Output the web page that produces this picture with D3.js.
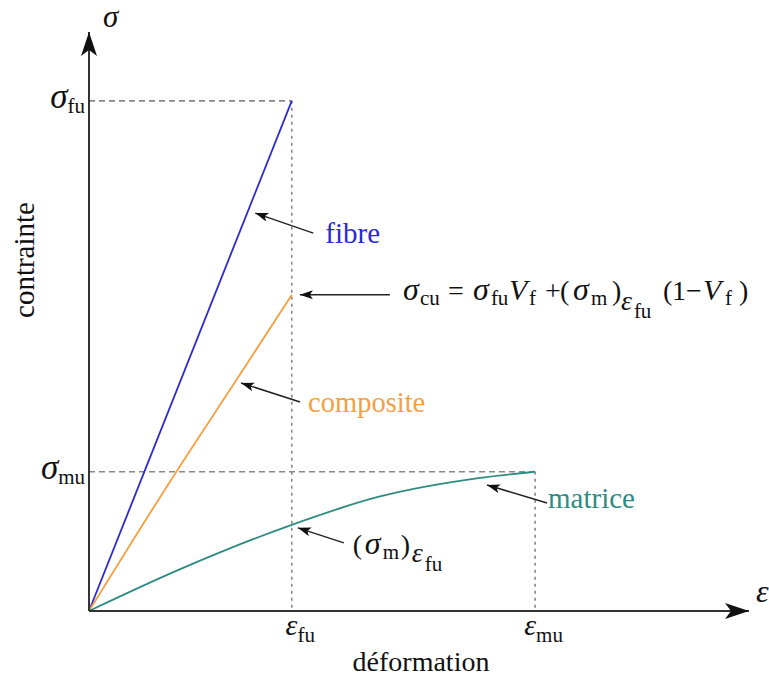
<!DOCTYPE html>
<html>
<head>
<meta charset="utf-8">
<script src="https://cdn.jsdelivr.net/npm/d3@7"></script>
<style>
  body { margin: 0; background: #fff; }
</style>
</head>
<body>
<svg id="chart" width="769" height="679"></svg>
<script>
// strain in units of eps_fu, stress in % of sigma_fu
var strainFu = 1.0, strainMu = 2.2;
var stressFu = 100, stressMu = 27.3;

var fibreStrain = [0, 1.0];
var fibreStress = [0, 100];
var compositeStrain = [0, 0.4, 0.78, 1.0];
var compositeStress = [0, 25.4, 48.5, 62];
var matrixStrain = [0, 0.45, 1.0, 1.43, 1.93, 2.2];
var matrixStress = [0, 8.2, 16.9, 22.4, 26.1, 27.3];

var xTickValues = [strainFu, strainMu];
var xTickSubs = ['fu', 'mu'];
var yTickValues = [stressMu, stressFu];
var yTickSubs = ['mu', 'fu'];

var colors = { fibre: '#2b2bd0', composite: '#f4a040', matrix: '#2e8b82' };
var serif = "'Liberation Serif'";

var svg = d3.select('#chart');
var x = d3.scaleLinear().domain([0, 3.25]).range([89, 748]);
var y = d3.scaleLinear().domain([0, 113.5]).range([611, 32]);

var defs = svg.append('defs');
defs.append('marker')
  .attr('id', 'axisHead').attr('markerUnits', 'userSpaceOnUse')
  .attr('markerWidth', 26).attr('markerHeight', 18)
  .attr('refX', 24).attr('refY', 8).attr('orient', 'auto')
  .append('path').attr('d', 'M0,0L24,8L0,16L6,8Z').attr('fill', '#111');
defs.append('marker')
  .attr('id', 'noteHead').attr('markerUnits', 'userSpaceOnUse')
  .attr('markerWidth', 14).attr('markerHeight', 10)
  .attr('refX', 13).attr('refY', 4.5).attr('orient', 'auto')
  .append('path').attr('d', 'M0,0L13,4.5L0,9L3,4.5Z').attr('fill', '#111');

// guide lines
var guides = svg.append('g').attr('fill', 'none').attr('stroke', '#888').attr('stroke-width', 1.6);
guides.append('line')
  .attr('x1', x(0)).attr('x2', x(strainFu)).attr('y1', y(stressFu)).attr('y2', y(stressFu))
  .attr('stroke-dasharray', '6,4');
guides.append('line')
  .attr('x1', x(0)).attr('x2', x(strainMu)).attr('y1', y(stressMu)).attr('y2', y(stressMu))
  .attr('stroke-dasharray', '6,4');
guides.append('line')
  .attr('x1', x(strainFu)).attr('x2', x(strainFu)).attr('y1', y(stressFu)).attr('y2', y(0))
  .attr('stroke-dasharray', '3,4');
guides.append('line')
  .attr('x1', x(strainMu)).attr('x2', x(strainMu)).attr('y1', y(stressMu)).attr('y2', y(0))
  .attr('stroke-dasharray', '3,4');

// curves
var line = d3.line()
  .x(function(d) { return x(d[0]); })
  .y(function(d) { return y(d[1]); })
  .curve(d3.curveMonotoneX);

var series = [
  { key: 'fibre', pts: d3.zip(fibreStrain, fibreStress) },
  { key: 'composite', pts: d3.zip(compositeStrain, compositeStress) },
  { key: 'matrix', pts: d3.zip(matrixStrain, matrixStress) }
];
svg.append('g').selectAll('path').data(series).enter()
  .append('path')
  .attr('d', function(d) { return line(d.pts); })
  .attr('fill', 'none')
  .attr('stroke', function(d) { return colors[d.key]; })
  .attr('stroke-width', 1.8);

// axes
svg.append('line')
  .attr('x1', x(0)).attr('y1', y(0)).attr('x2', x.range()[1] + 1).attr('y2', y(0))
  .attr('stroke', '#333').attr('stroke-width', 2).attr('marker-end', 'url(#axisHead)');
svg.append('line')
  .attr('x1', x(0)).attr('y1', y(0)).attr('x2', x(0)).attr('y2', y.range()[1])
  .attr('stroke', '#333').attr('stroke-width', 2).attr('marker-end', 'url(#axisHead)');

// tspan helper: every piece carries its own font
function piece(t, s, size, opts) {
  opts = opts || {};
  var ts = t.append('tspan').attr('font-family', serif).attr('font-size', size).text(s);
  if (opts.italic) ts.attr('font-style', 'italic');
  if (opts.dy) ts.attr('dy', opts.dy);
  if (opts.x !== undefined) ts.attr('x', opts.x);
  if (opts.y !== undefined) ts.attr('y', opts.y);
  return ts;
}

var xAxis = svg.append('g')
  .attr('transform', 'translate(0,' + y(0) + ')')
  .call(d3.axisBottom(x).tickValues(xTickValues).tickSize(0).tickFormat(''));
xAxis.attr('font-family', serif).attr('font-size', null);
xAxis.select('.domain').remove();
xAxis.selectAll('.tick text').each(function(d, i) {
  var t = d3.select(this).attr('dy', null).attr('y', 24).attr('x', 8)
    .attr('font-family', serif).attr('text-anchor', 'middle').attr('fill', '#111');
  piece(t, '\u03B5', 30, { italic: true });
  piece(t, xTickSubs[i], 21, { dy: 7 });
});

var yAxis = svg.append('g')
  .attr('transform', 'translate(' + x(0) + ',0)')
  .call(d3.axisLeft(y).tickValues(yTickValues).tickSize(0).tickFormat(''));
yAxis.attr('font-family', serif).attr('font-size', null);
yAxis.select('.domain').remove();
yAxis.selectAll('.tick text').each(function(d, i) {
  var t = d3.select(this).attr('dy', null).attr('y', 7).attr('x', -4)
    .attr('font-family', serif).attr('text-anchor', 'end').attr('fill', '#111');
  piece(t, '\u03C3', 35, { italic: true });
  piece(t, yTickSubs[i], 21, { dy: 5 });
});

function addText(xp, yp, size) {
  return svg.append('text').attr('x', xp).attr('y', yp)
    .attr('font-family', serif).attr('font-size', size).attr('fill', '#111');
}

// axis titles
addText(103, 27, 31).attr('font-style', 'italic').text('\u03C3');
addText(756, 602, 32).attr('font-style', 'italic').text('\u03B5');
addText(421, 671, 28).attr('text-anchor', 'middle').text('déformation');
addText(0, 0, 29).attr('transform', 'translate(34,' + 260 + ') rotate(-90)')
  .attr('text-anchor', 'middle').text('contrainte');

// annotations: arrow tip on the curve, tail offset
var notes = [
  { strain: 0.82, stress: 78, dx: 58, dy: 20 },
  { strain: 0.75, stress: 44.7, dx: 59, dy: 19 },
  { strain: 1.04, stress: 62, dx: 90, dy: 0 },
  { strain: 1.963, stress: 24.7, dx: 60, dy: 18 },
  { strain: 1.03, stress: 16.3, dx: 46, dy: 15 }
];
svg.append('g').selectAll('line').data(notes).enter()
  .append('line')
  .attr('x1', function(d) { return x(d.strain) + d.dx; })
  .attr('y1', function(d) { return y(d.stress) + d.dy; })
  .attr('x2', function(d) { return x(d.strain); })
  .attr('y2', function(d) { return y(d.stress); })
  .attr('stroke', '#222').attr('stroke-width', 1.5)
  .attr('marker-end', 'url(#noteHead)');

function tailX(i) { return x(notes[i].strain) + notes[i].dx; }
function tailY(i) { return y(notes[i].stress) + notes[i].dy; }

addText(tailX(0) + 12, tailY(0) + 10, 29).attr('fill', colors.fibre).text('fibre');
addText(tailX(1) + 8, tailY(1) + 10, 28.5).attr('fill', colors.composite).text('composite');
addText(tailX(3) + 1, tailY(3) + 5, 29).attr('fill', colors.matrix).text('matrice');

// formula, pieces placed like the typeset original
var fx = tailX(2) + 13, fy = tailY(2) + 5;
var f = addText(fx, fy, 28);
var formula = [
  ['\u03C3', 0, 0, 32, true], ['cu', 17, 5, 21], ['=', 45, 0, 28],
  ['\u03C3', 70, 0, 32, true], ['fu', 88, 5, 21], ['V', 106, 0, 30, true], ['f', 126, 5, 21],
  ['+', 142, 0, 28], ['(', 157, 0, 28], ['\u03C3', 170, 0, 32, true], ['m', 188, 5, 21],
  [')', 209, 0, 28], ['\u03B5', 218, 10, 28, true], ['fu', 231, 18, 21],
  ['(', 260, 0, 28], ['1', 269, 0, 28], ['\u2212', 283, 0, 28], ['V', 300, 0, 30, true],
  ['f', 322, 5, 21], [')', 336, 0, 28]
];
formula.forEach(function(p) {
  piece(f, p[0], p[3], { italic: p[4], x: fx + p[1], y: fy + p[2] });
});

// (sigma_m)_eps_fu label
var gx = tailX(4) + 9, gy = tailY(4) + 11;
var g = addText(gx, gy, 28);
var sigmaM = [
  ['(', 0, 0, 28], ['\u03C3', 12, 0, 32, true], ['m', 30, 5, 21], [')', 48, 0, 28],
  ['\u03B5', 59, 8, 28, true], ['fu', 72, 17, 21]
];
sigmaM.forEach(function(p) {
  piece(g, p[0], p[3], { italic: p[4], x: gx + p[1], y: gy + p[2] });
});
</script>
</body>
</html>
